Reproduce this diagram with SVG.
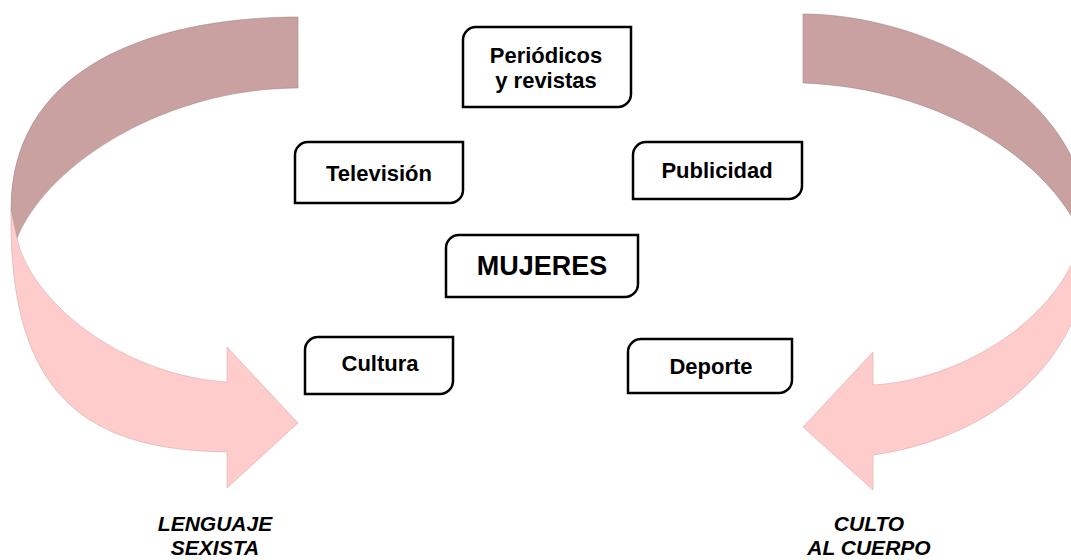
<svg xmlns="http://www.w3.org/2000/svg" width="1071" height="560" viewBox="0 0 1071 560">
<style>
.back{fill:#C9A1A1;stroke:#9a7c7c;stroke-width:0.5}
.front{fill:#FFCCCC;stroke:#c8a2a2;stroke-width:0.5}
.box{fill:#ffffff;stroke:#000000;stroke-width:2.5}
.lbl{font-family:"Liberation Sans",Arial,sans-serif;font-weight:bold;font-size:22px;fill:#000;text-anchor:middle}
.big{font-size:27px}
.side{font-family:"Liberation Sans",Arial,sans-serif;font-weight:bold;font-style:italic;font-size:21px;fill:#000;text-anchor:middle}
</style>
<rect width="1071" height="560" fill="#ffffff"/>
<g id="connectors">
  <g id="arrow-left">
    <path class="back" d="M298,17 C175,17 11,55 11,210 L17,238 C50,160 170,88 298,88 Z"/>
    <path class="front" d="M11,210 L17,238 C30,300 120,375 227,382 L227,347 L298,423 L227,488 L227,452 C90,450 8,400 11,210 Z"/>
  </g>
  <g id="arrow-right">
    <path class="back" d="M803,14 C920,14 1090,90 1090,235 L1082,237 C1050,160 940,88 803,83 Z"/>
    <path class="front" d="M1090,235 L1082,237 C1060,320 960,380 873,385 L873,352 L803,427 L873,490 L873,455 C980,440 1090,370 1090,235 Z"/>
  </g>
</g>
<g id="node-periodicos">
  <path class="box" d="M476,27 H631 V94 A13,13 0 0 1 618,107 H463 V40 A13,13 0 0 1 476,27 Z"/>
  <text class="lbl" x="546" y="63">Periódicos</text>
  <text class="lbl" x="546" y="88">y revistas</text>
</g>
<g id="node-television">
  <path class="box" d="M308,142 H463 V190 A13,13 0 0 1 450,203 H295 V155 A13,13 0 0 1 308,142 Z"/>
  <text class="lbl" x="379" y="181">Televisión</text>
</g>
<g id="node-publicidad">
  <path class="box" d="M646,142 H802 V186 A13,13 0 0 1 789,199 H633 V155 A13,13 0 0 1 646,142 Z"/>
  <text class="lbl" x="717" y="178">Publicidad</text>
</g>
<g id="node-mujeres">
  <path class="box" d="M459,235 H638 V284 A13,13 0 0 1 625,297 H446 V248 A13,13 0 0 1 459,235 Z"/>
  <text class="lbl big" x="542" y="275">MUJERES</text>
</g>
<g id="node-cultura">
  <path class="box" d="M318,337 H453 V381 A13,13 0 0 1 440,394 H305 V350 A13,13 0 0 1 318,337 Z"/>
  <text class="lbl" x="380" y="371">Cultura</text>
</g>
<g id="node-deporte">
  <path class="box" d="M641,339 H792 V380 A13,13 0 0 1 779,393 H628 V352 A13,13 0 0 1 641,339 Z"/>
  <text class="lbl" x="711" y="374">Deporte</text>
</g>
<g id="label-lenguaje">
  <text class="side" x="215" y="531">LENGUAJE</text>
  <text class="side" x="215" y="555">SEXISTA</text>
</g>
<g id="label-culto">
  <text class="side" x="869" y="531">CULTO</text>
  <text class="side" x="869" y="555">AL CUERPO</text>
</g>
</svg>
